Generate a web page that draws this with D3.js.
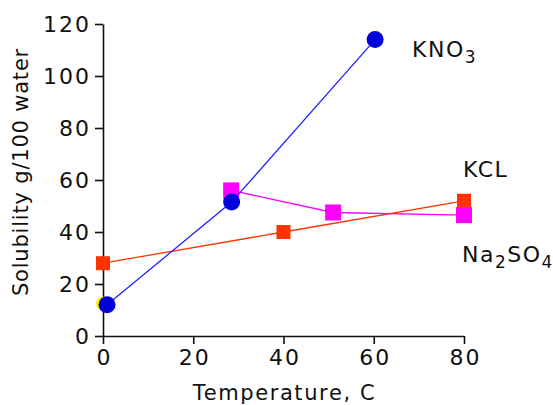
<!DOCTYPE html>
<html lang="en">
<head>
<meta charset="UTF-8">
<title>Solubility</title>
<script src="https://d3js.org/d3.v7.min.js"></script>
<style>
  body { margin: 0; background: #fff; }
  text { font-family: "DejaVu Sans", sans-serif; fill: #111; }
</style>
</head>
<body>
<svg id="chart"></svg>
<script>
  const width = 553, height = 405;

  // data
  const temps = [0, 20, 40, 60, 80];
  const yTicks = [0, 20, 40, 60, 80, 100, 120];
  const kno3 = [[0.9, 12], [28.5, 51.5], [60.3, 114]];
  const kcl = [[0, 28], [40, 40], [80, 52]];
  const na2so4 = [[28.4, 56], [51, 47.5], [80, 46.5]];
  const extra = [[0, 12.5]]; // small yellow marker hidden behind KNO3

  const svg = d3.select('#chart')
    .attr('width', width)
    .attr('height', height);

  const x = d3.scaleLinear().domain([0, 80]).range([103, 464]);
  const y = d3.scaleLinear().domain([0, 120]).range([336, 24]);

  // axes
  const xAxis = svg.append('g')
    .attr('transform', 'translate(0,' + y(0) + ')')
    .call(d3.axisBottom(x).tickValues(temps).tickSize(8).tickSizeOuter(0).tickPadding(5));
  const yAxis = svg.append('g')
    .attr('transform', 'translate(' + x(0) + ',0)')
    .call(d3.axisLeft(y).tickValues(yTicks).tickSize(8).tickSizeOuter(0).tickPadding(4));

  [xAxis, yAxis].forEach(a => {
    a.selectAll('path, line').attr('stroke', '#111').attr('stroke-width', 1.6);
    a.selectAll('text')
      .attr('font-size', 22)
      .attr('letter-spacing', 2)
      .attr('font-family', '"DejaVu Sans", sans-serif')
      .attr('fill', '#111');
  });
  // keep x tick labels centred despite the letter spacing
  xAxis.selectAll('text').attr('dx', 1);

  svg.append('text')
    .attr('x', (x(0) + x(80)) / 2 + 1)
    .attr('y', 400)
    .attr('text-anchor', 'middle')
    .attr('font-size', 21)
    .attr('letter-spacing', 1.6)
    .text('Temperature, C');

  svg.append('text')
    .attr('transform', 'translate(28,172) rotate(-90)')
    .attr('text-anchor', 'middle')
    .attr('font-size', 21)
    .attr('letter-spacing', 0.8)
    .text('Solubility g/100 water');

  const line = d3.line().x(d => x(d[0])).y(d => y(d[1]));

  function squares(data, color, size) {
    svg.append('path')
      .datum(data)
      .attr('d', line)
      .attr('fill', 'none')
      .attr('stroke', color)
      .attr('stroke-width', 1.3);
    svg.append('g').selectAll('rect')
      .data(data)
      .join('rect')
        .attr('x', d => x(d[0]) - size / 2)
        .attr('y', d => y(d[1]) - size / 2)
        .attr('width', size)
        .attr('height', size)
        .attr('fill', color);
  }

  // yellow point underneath
  svg.append('g').selectAll('circle')
    .data(extra)
    .join('circle')
      .attr('cx', d => x(d[0]))
      .attr('cy', d => y(d[1]))
      .attr('r', 7)
      .attr('fill', '#ffee00');

  squares(kcl, '#ff3300', 14);
  squares(na2so4, '#ff00ff', 16);

  // KNO3 on top
  svg.append('path')
    .datum(kno3)
    .attr('d', line)
    .attr('fill', 'none')
    .attr('stroke', '#2222ff')
    .attr('stroke-width', 1.3);
  svg.append('g').selectAll('circle')
    .data(kno3)
    .join('circle')
      .attr('cx', d => x(d[0]))
      .attr('cy', d => y(d[1]))
      .attr('r', 8.5)
      .attr('fill', '#0000dd');

  // series labels
  function label(px, py, parts) {
    const t = svg.append('text').attr('x', px).attr('y', py)
      .attr('font-size', 22).attr('letter-spacing', 1.5);
    parts.forEach(p => {
      t.append('tspan')
        .attr('font-size', p.sub ? 17 : 22)
        .attr('dy', p.sub ? 6 : (p.back ? -6 : 0))
        .text(p.s);
    });
  }
  label(412, 57, [{s: 'KNO'}, {s: '3', sub: true}]);
  label(463, 177, [{s: 'KCL'}]);
  label(462, 262, [{s: 'Na'}, {s: '2', sub: true}, {s: 'SO', back: true}, {s: '4', sub: true}]);
</script>
</body>
</html>
